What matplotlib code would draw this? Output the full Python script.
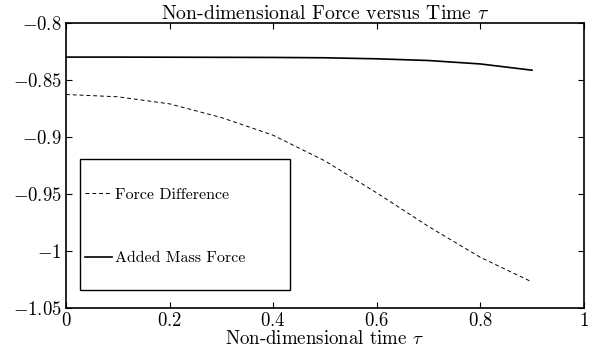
import matplotlib
matplotlib.use('Agg')
import matplotlib.pyplot as plt
from matplotlib.ticker import FuncFormatter
from matplotlib.patches import Rectangle

# Computer Modern look, like the LaTeX/MATLAB original
plt.rcParams['font.family'] = 'serif'
plt.rcParams['font.serif'] = ['cmr10']
plt.rcParams['mathtext.fontset'] = 'cm'
plt.rcParams['axes.formatter.use_mathtext'] = True

# Data
tau = [0.0, 0.1, 0.2, 0.3, 0.4, 0.5, 0.6, 0.7, 0.8, 0.9]
force_difference = [-0.8628, -0.8648, -0.8710, -0.8830, -0.8985, -0.9210,
                    -0.9490, -0.9785, -1.0055, -1.0272]
added_mass_force = [-0.8300, -0.8300, -0.8301, -0.8302, -0.8303, -0.8306,
                    -0.8315, -0.8330, -0.8360, -0.8415]
x_ticks = [0, 0.2, 0.4, 0.6, 0.8, 1]
y_ticks = [-1.05, -1.0, -0.95, -0.9, -0.85, -0.8]

fig = plt.figure(figsize=(6, 3.52), dpi=100)
ax = fig.add_axes([0.11, 0.125, 0.863, 0.81])

ax.plot(tau, force_difference, 'k--', lw=0.7, dashes=(4, 3), label='Force Difference')
ax.plot(tau, added_mass_force, 'k-', lw=1.2, label='Added Mass Force')

ax.set_xlim(0, 1)
ax.set_ylim(-1.05, -0.8)
ax.set_xticks(x_ticks)
ax.set_yticks(y_ticks)
ax.xaxis.set_major_formatter(FuncFormatter(lambda v, p: '$%g$' % v))
ax.yaxis.set_major_formatter(FuncFormatter(lambda v, p: '$%g$' % v))
ax.tick_params(direction='in', top=True, right=True, length=4, width=0.8,
               labelsize=13.5, pad=3)
for s in ax.spines.values():
    s.set_linewidth(1.2)

ax.set_title(r'Non-dimensional Force versus Time $\tau$', fontsize=14.2, pad=3)
ax.set_xlabel(r'Non-dimensional time $\tau$', fontsize=13.6, labelpad=0)

# MATLAB style legend box
ax.add_patch(Rectangle((0.027, 0.063), 0.405, 0.46, transform=ax.transAxes,
                       fill=False, ec='black', lw=1.0, zorder=3))
ax.legend(loc='upper left', bbox_to_anchor=(0.027, 0.44), frameon=False,
          fontsize=11.5, handlelength=1.7, handletextpad=0.2, labelspacing=3.1,
          borderpad=0.3, borderaxespad=0)

fig.savefig('out.png', dpi=100)
